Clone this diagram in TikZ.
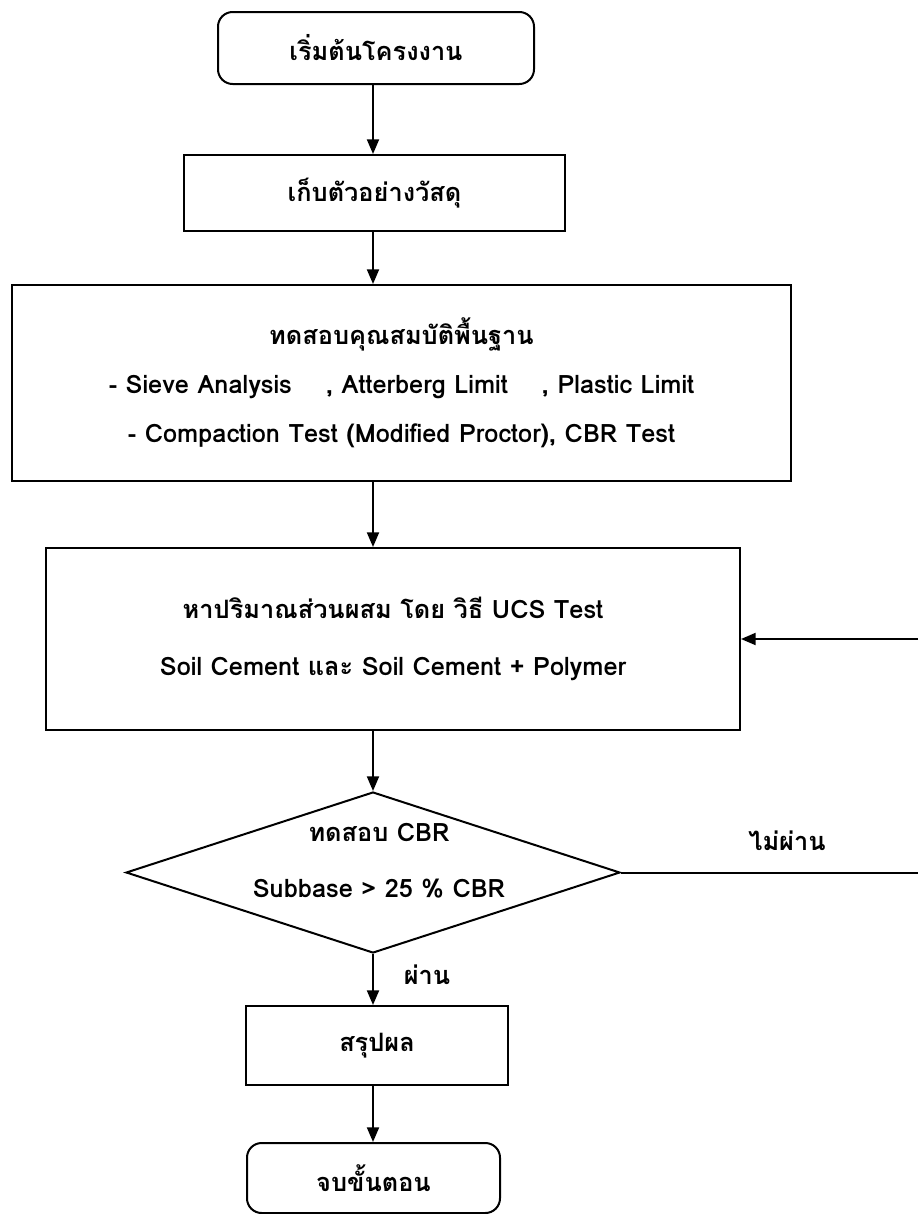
\documentclass[tikz,border=0pt]{standalone}
\usepackage{fontspec}
\newfontfamily\thaifont[Script=Thai]{Loma}
\usetikzlibrary{shapes.geometric,arrows.meta}

\begin{document}
\begin{tikzpicture}[%
      x=0.75pt, y=-0.75pt,
      txt/.style={font=\thaifont\bfseries\fontsize{19}{23}\selectfont},
      box/.style={txt, draw, line width=1.5pt, inner sep=0pt, align=center},
      startbox/.style={box, rounded corners=11pt},
      decision/.style={draw, diamond, line width=1.5pt, inner sep=0pt},
      arrow/.style={line width=1.5pt, -{Triangle[length=11pt,width=9pt]}},
      ]
      \useasboundingbox (0,0) rectangle (918,1214);

      \node [startbox, minimum width=237pt, minimum height=54pt] (start) at (376,48) {เริ่มต้นโครงงาน};
      \node [box, minimum width=285.75pt, minimum height=57pt] (sample) at (374.5,193) {เก็บตัวอย่างวัสดุ};
      \node [box, minimum width=584.25pt, minimum height=147pt,
             font=\thaifont\bfseries\fontsize{19}{36.75}\selectfont] (basic) at (401.5,383)
            {ทดสอบคุณสมบัติพื้นฐาน\\- Sieve Analysis\ \ \ \ , Atterberg Limit\ \ \ \ , Plastic Limit\\- Compaction Test (Modified Proctor), CBR Test};
      \node [box, minimum width=520.5pt, minimum height=136.5pt,
             font=\thaifont\bfseries\fontsize{19}{42.75}\selectfont] (mix) at (393,639)
            {หาปริมาณส่วนผสม โดย วิธี UCS Test\\Soil Cement และ Soil Cement + Polymer};
      \node [decision, minimum width=370.5pt, minimum height=120.75pt,
             label={[txt, align=center, font=\thaifont\bfseries\fontsize{19}{42}\selectfont,
                     xshift=4.5pt, yshift=9pt]center:{ทดสอบ CBR\\Subbase > 25 \% CBR}}] (cbr) at (373,872.5) {};
      \node [box, minimum width=196.5pt, minimum height=59.25pt] (sum) at (377,1045.5) {สรุปผล};
      \node [startbox, minimum width=189.75pt, minimum height=52.5pt] (stop) at (373.5,1178) {จบขั้นตอน};

      \coordinate (spine) at (373,0);
      \coordinate (loopout) at (918,872.5);
      \coordinate (loopin) at (918,639);

      \draw [arrow] (spine |- start.south) -- (spine |- sample.north);
      \draw [arrow] (spine |- sample.south) -- (spine |- basic.north);
      \draw [arrow] (spine |- basic.south) -- (spine |- mix.north);
      \draw [arrow] (spine |- mix.south) -- (cbr.north);
      \draw [arrow] (cbr.south) -- (spine |- sum.north);
      \draw [arrow] (spine |- sum.south) -- (spine |- stop.north);
      % loop back, its upright leg lies off the page
      \draw [line width=1.5pt] (cbr.east) -- (loopout);
      \draw [arrow] (loopin) -- (mix.east);

      \node [txt] (fail) at (787,841) {ไม่ผ่าน};
      \node [txt] (pass) at (427,975) {ผ่าน};
      \end{tikzpicture}
\end{document}
